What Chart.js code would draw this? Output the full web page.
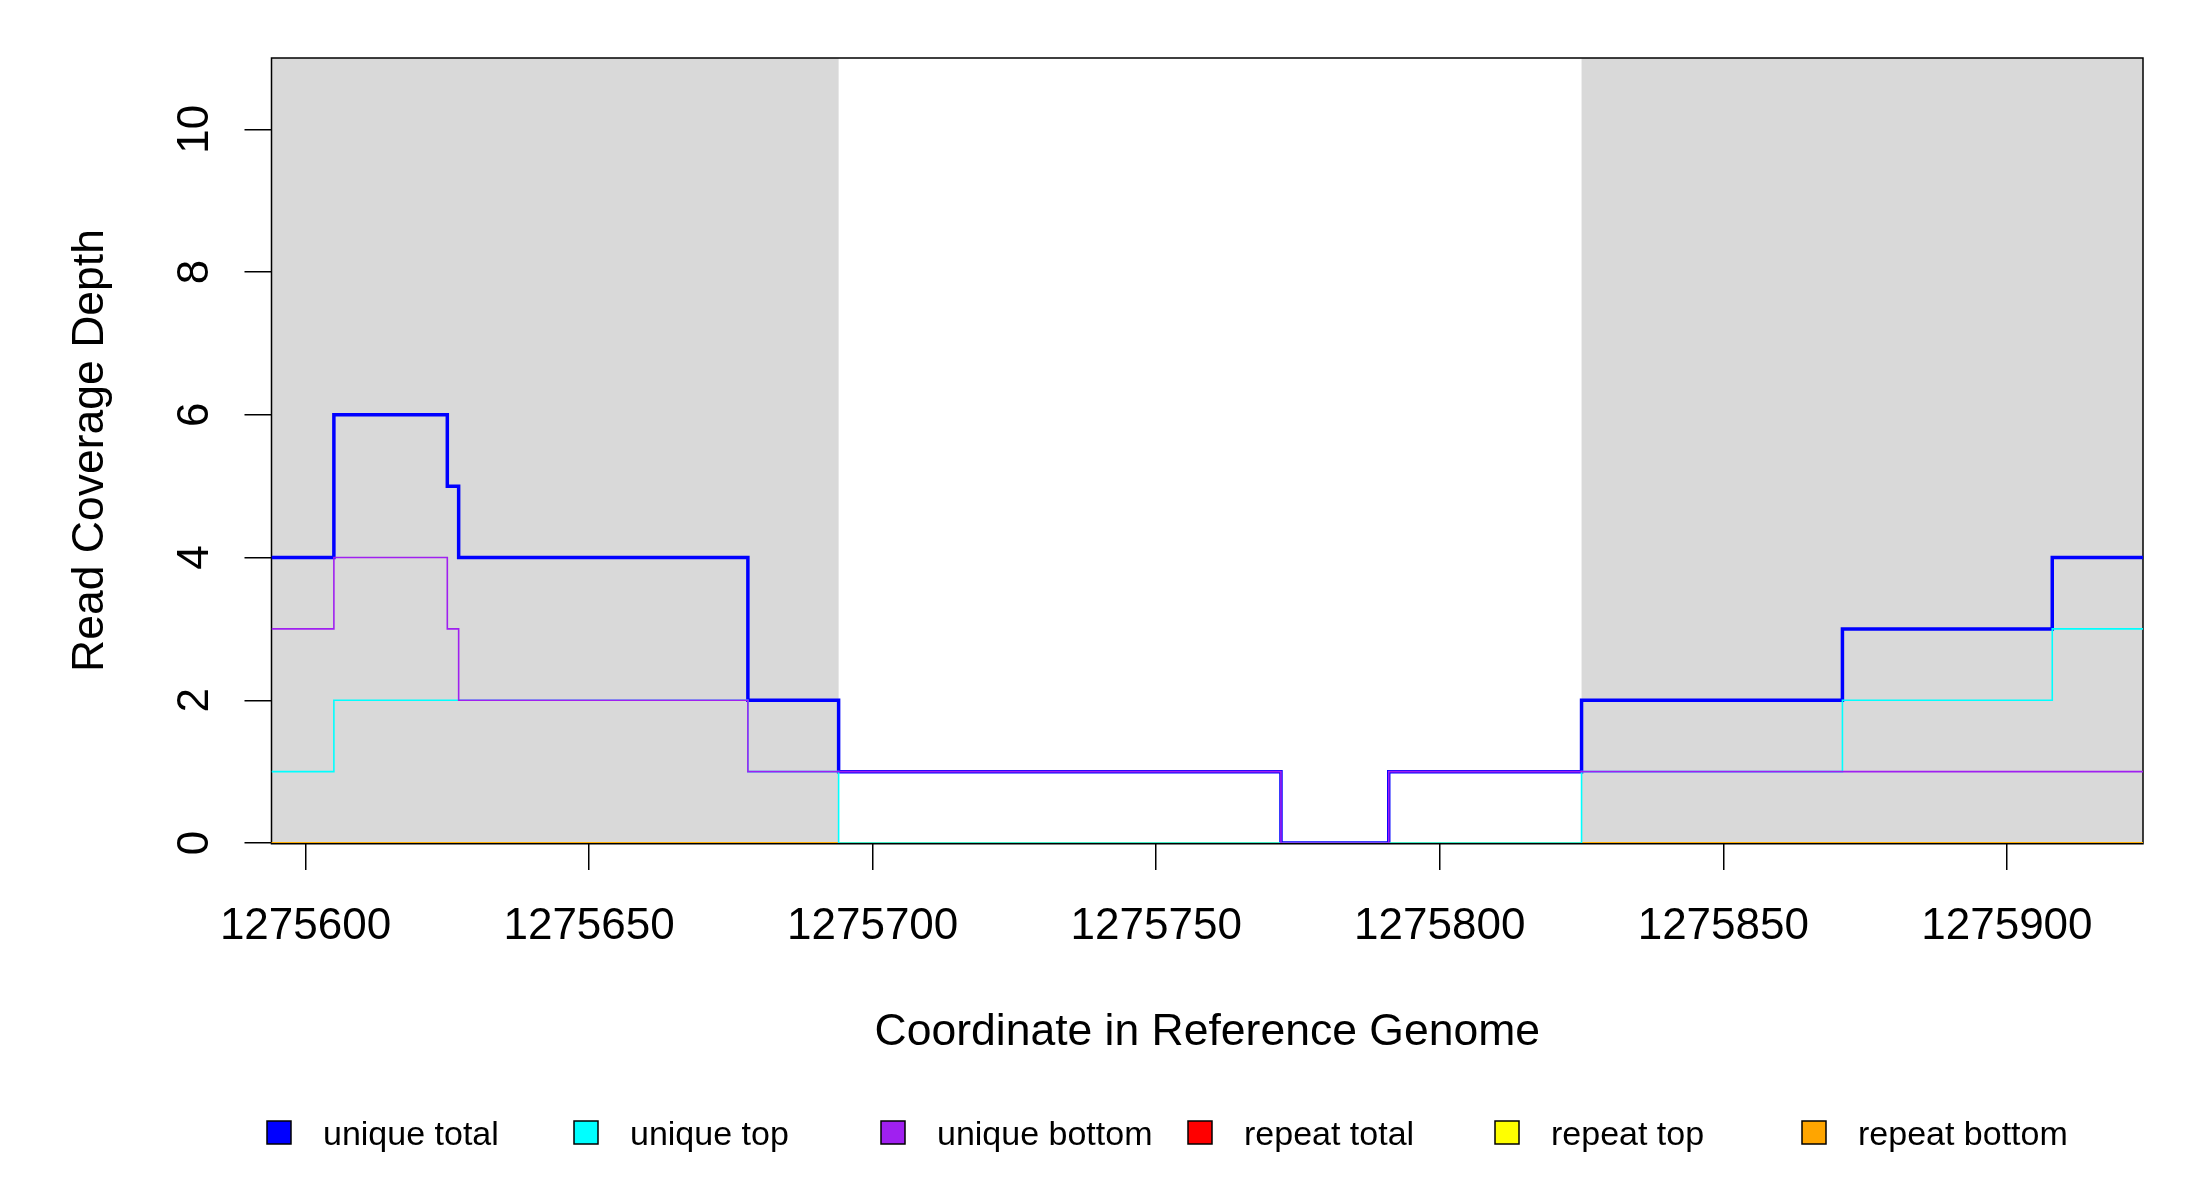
<!DOCTYPE html>
<html>
<head>
<meta charset="utf-8">
<script src="https://cdn.jsdelivr.net/npm/chart.js@4.4.1/dist/chart.umd.min.js"></script>
<style>
  html, body { margin: 0; padding: 0; background: #ffffff; }
  canvas { display: block; }
</style>
</head>
<body>
<canvas id="coverageChart" width="2200" height="1200"></canvas>
<script>
// breakpoints (start coordinate of each step) and depth values
var uniqueTotalX = [1275594, 1275605, 1275625, 1275627, 1275678, 1275694, 1275772, 1275791, 1275825, 1275871, 1275908, 1275924];
var uniqueTotal  = [4, 6, 5, 4, 2, 1, 0, 1, 2, 3, 4, 4];

var uniqueTopX = [1275594, 1275605, 1275678, 1275694, 1275825, 1275871, 1275908, 1275924];
var uniqueTop  = [1, 2, 1, 0, 1, 2, 3, 3];

var uniqueBottomX = [1275594, 1275605, 1275625, 1275627, 1275678, 1275772, 1275791, 1275924];
var uniqueBottom  = [3, 4, 3, 2, 1, 0, 1, 1];

var repeatX      = [1275594, 1275924];
var repeatTotal  = [0, 0];
var repeatTop    = [0, 0];
var repeatBottom = [0, 0];

// shaded (grey) regions
var shadeStart = [1275594, 1275825];
var shadeEnd   = [1275694, 1275924];

var xMin = 1275594, xMax = 1275924;
var yMin = 0, yMax = 11;

var legendLabels = ['unique total', 'unique top', 'unique bottom', 'repeat total', 'repeat top', 'repeat bottom'];
var seriesColors = ['#0000ff', '#00ffff', '#a020f0', '#ff0000', '#ffff00', '#ffa500'];

var FONT = '"Liberation Sans", Arial, sans-serif';

function toPoints(xs, ys) {
    var pts = [];
    xs.forEach(function (x, i) {
        pts.push({ x: x, y: ys[i] });
    });
    return pts;
}

function makeSet(label, xs, ys, color, width, order) {
    return {
        label: label,
        data: toPoints(xs, ys),
        borderColor: color,
        backgroundColor: color,
        borderWidth: width,
        stepped: true,
        pointRadius: 0,
        fill: false,
        clip: 0,
        order: order
    };
}

// R-style frame, grey bands, rotated y labels, titles and legend
var rStyle = {
    id: 'rStyle',
    beforeDatasetsDraw: function (chart) {
        var ctx = chart.ctx, a = chart.chartArea, xs = chart.scales.x;
        ctx.save();
        ctx.beginPath();
        ctx.rect(a.left, a.top, a.right - a.left, a.bottom - a.top);
        ctx.clip();
        ctx.fillStyle = '#d9d9d9';
        shadeStart.forEach(function (s, i) {
            var x0 = xs.getPixelForValue(s), x1 = xs.getPixelForValue(shadeEnd[i]);
            ctx.fillRect(x0, a.top, x1 - x0, a.bottom - a.top);
        });
        ctx.restore();

        ctx.save();
        ctx.strokeStyle = '#000000';
        ctx.lineWidth = 1.5;
        ctx.strokeRect(a.left, a.top, a.right - a.left, a.bottom - a.top + 0.75);
        ctx.restore();
    },
    afterDraw: function (chart) {
        var ctx = chart.ctx, a = chart.chartArea, ys = chart.scales.y;
        ctx.save();
        ctx.fillStyle = '#000000';

        // y tick labels, rotated like R's las=0
        ctx.font = '44px ' + FONT;
        ctx.textAlign = 'center';
        ctx.textBaseline = 'middle';
        ys.ticks.forEach(function (t) {
            ctx.save();
            ctx.translate(196, ys.getPixelForValue(t.value));
            ctx.rotate(-Math.PI / 2);
            ctx.fillText(String(t.value), 0, 0);
            ctx.restore();
        });

        // axis titles
        ctx.font = '44.5px ' + FONT;
        ctx.textBaseline = 'alphabetic';
        ctx.fillText('Coordinate in Reference Genome', (a.left + a.right) / 2, 1045);
        ctx.save();
        ctx.translate(103, (a.top + a.bottom) / 2);
        ctx.rotate(-Math.PI / 2);
        ctx.fillText('Read Coverage Depth', 0, 0);
        ctx.restore();

        // legend
        ctx.font = '34px ' + FONT;
        ctx.textAlign = 'left';
        legendLabels.forEach(function (lab, i) {
            var bx = 267 + i * 307;
            ctx.fillStyle = seriesColors[i];
            ctx.fillRect(bx, 1121, 24, 23);
            ctx.strokeStyle = '#000000';
            ctx.lineWidth = 1.5;
            ctx.strokeRect(bx, 1121, 24, 23);
            ctx.fillStyle = '#000000';
            ctx.fillText(lab, bx + 56, 1145);
        });
        ctx.restore();
    }
};

var ctx = document.getElementById('coverageChart').getContext('2d');
var myChart = new Chart(ctx, {
    type: 'line',
    data: {
        datasets: [
            makeSet(legendLabels[0], uniqueTotalX, uniqueTotal, seriesColors[0], 3.5, 3),
            makeSet(legendLabels[1], uniqueTopX, uniqueTop, seriesColors[1], 1.6, 2),
            makeSet(legendLabels[2], uniqueBottomX, uniqueBottom, seriesColors[2], 1.6, 1),
            makeSet(legendLabels[3], repeatX, repeatTotal, seriesColors[3], 1.6, 7),
            makeSet(legendLabels[4], repeatX, repeatTop, seriesColors[4], 1.6, 6),
            makeSet(legendLabels[5], repeatX, repeatBottom, seriesColors[5], 1.6, 5)
        ]
    },
    options: {
        responsive: false,
        animation: false,
        devicePixelRatio: 1,
        layout: { padding: { top: 58, right: 57, left: 0, bottom: 0 } },
        plugins: {
            legend: { display: false },
            tooltip: { enabled: false }
        },
        scales: {
            x: {
                type: 'linear',
                min: xMin,
                max: xMax,
                afterFit: function (scale) { scale.height = 357; },
                grid: { drawOnChartArea: false, tickLength: 27, color: '#000000', lineWidth: 1.5 },
                border: { display: false },
                ticks: {
                    stepSize: 50,
                    includeBounds: false,
                    padding: 30,
                    color: '#000000',
                    font: { family: FONT, size: 44 },
                    maxRotation: 0,
                    callback: function (v) { return String(v); }
                }
            },
            y: {
                type: 'linear',
                min: yMin,
                max: yMax,
                afterFit: function (scale) { scale.width = 271.5; },
                grid: { drawOnChartArea: false, tickLength: 27, color: '#000000', lineWidth: 1.5 },
                border: { display: false },
                ticks: { stepSize: 2, includeBounds: false, display: false }
            }
        }
    },
    plugins: [rStyle]
});
</script>
</body>
</html>
